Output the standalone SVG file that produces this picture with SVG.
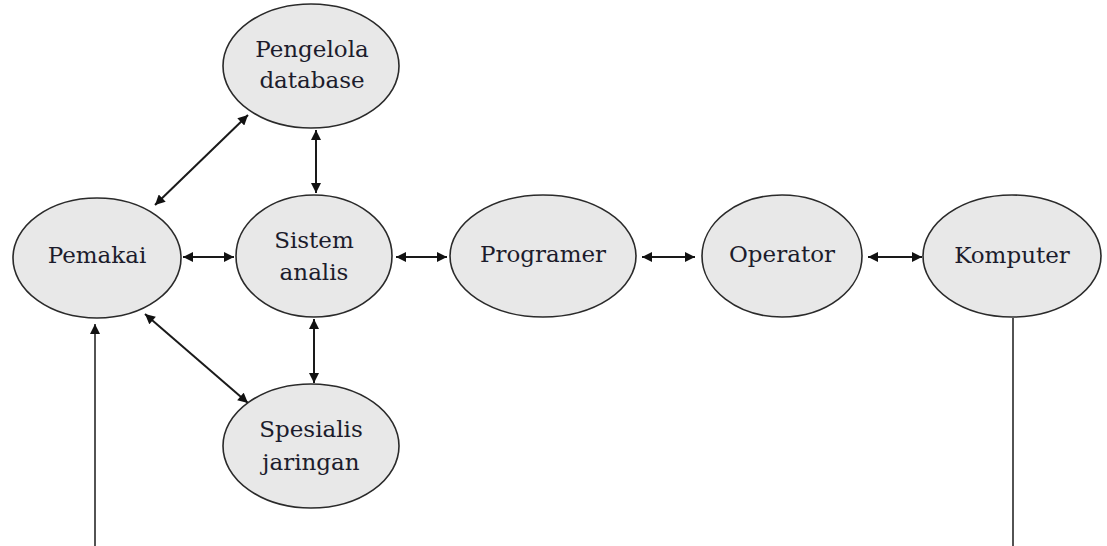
<svg xmlns="http://www.w3.org/2000/svg" width="1107" height="546" viewBox="0 0 1107 546">
  <style>
    .node ellipse { fill: #e8e8e8; stroke: #2a2a2a; stroke-width: 1.6; }
    .node text { font-family: "DejaVu Serif", "Liberation Serif", serif; font-size: 23px; fill: #1c1c2c; text-anchor: middle; }
    .link { stroke: #1a1a1a; stroke-width: 2; fill: none; }
    .feed { stroke: #1a1a1a; stroke-width: 1.5; fill: none; }
  </style>
  <defs>
    <marker id="head" viewBox="0 0 10 10" refX="10" refY="5" markerWidth="11" markerHeight="10" markerUnits="userSpaceOnUse" orient="auto-start-reverse">
      <path d="M0,0 L10,5 L0,10 Z" fill="#111"/>
    </marker>
  </defs>

  <rect width="1107" height="546" fill="#ffffff"/>

  <!-- connectors -->
  <g id="connectors">
    <line class="link" x1="183" y1="257" x2="234" y2="257" marker-start="url(#head)" marker-end="url(#head)"/>
    <line class="link" x1="396" y1="257" x2="447" y2="257" marker-start="url(#head)" marker-end="url(#head)"/>
    <line class="link" x1="642" y1="257" x2="695" y2="257" marker-start="url(#head)" marker-end="url(#head)"/>
    <line class="link" x1="868" y1="257" x2="922" y2="257" marker-start="url(#head)" marker-end="url(#head)"/>
    <line class="link" x1="316" y1="130" x2="316" y2="193" marker-start="url(#head)" marker-end="url(#head)"/>
    <line class="link" x1="314" y1="319" x2="314" y2="383" marker-start="url(#head)" marker-end="url(#head)"/>
    <line class="link" x1="155" y1="205" x2="248" y2="115" marker-start="url(#head)" marker-end="url(#head)"/>
    <line class="link" x1="145" y1="314" x2="248" y2="403" marker-start="url(#head)" marker-end="url(#head)"/>
    <!-- feedback from Komputer back to Pemakai -->
    <line class="feed" x1="1013" y1="318" x2="1013" y2="546"/>
    <line class="feed" x1="95" y1="546" x2="95" y2="324" marker-end="url(#head)"/>
  </g>

  <g id="node-pengelola" class="node">
    <ellipse cx="311" cy="66" rx="88" ry="62"/>
    <text x="312" y="57">Pengelola</text>
    <text x="312" y="88">database</text>
  </g>

  <g id="node-pemakai" class="node">
    <ellipse cx="97" cy="258" rx="84" ry="60"/>
    <text x="97" y="263">Pemakai</text>
  </g>

  <g id="node-sistem" class="node">
    <ellipse cx="314" cy="256" rx="78" ry="61"/>
    <text x="314" y="248">Sistem</text>
    <text x="314" y="280">analis</text>
  </g>

  <g id="node-programer" class="node">
    <ellipse cx="543" cy="256" rx="93" ry="61"/>
    <text x="543" y="262">Programer</text>
  </g>

  <g id="node-operator" class="node">
    <ellipse cx="782" cy="256" rx="80" ry="61"/>
    <text x="782" y="262">Operator</text>
  </g>

  <g id="node-komputer" class="node">
    <ellipse cx="1012" cy="256" rx="89" ry="61"/>
    <text x="1012" y="263">Komputer</text>
  </g>

  <g id="node-spesialis" class="node">
    <ellipse cx="311" cy="446" rx="88" ry="62"/>
    <text x="311" y="437">Spesialis</text>
    <text x="311" y="470">jaringan</text>
  </g>
</svg>
